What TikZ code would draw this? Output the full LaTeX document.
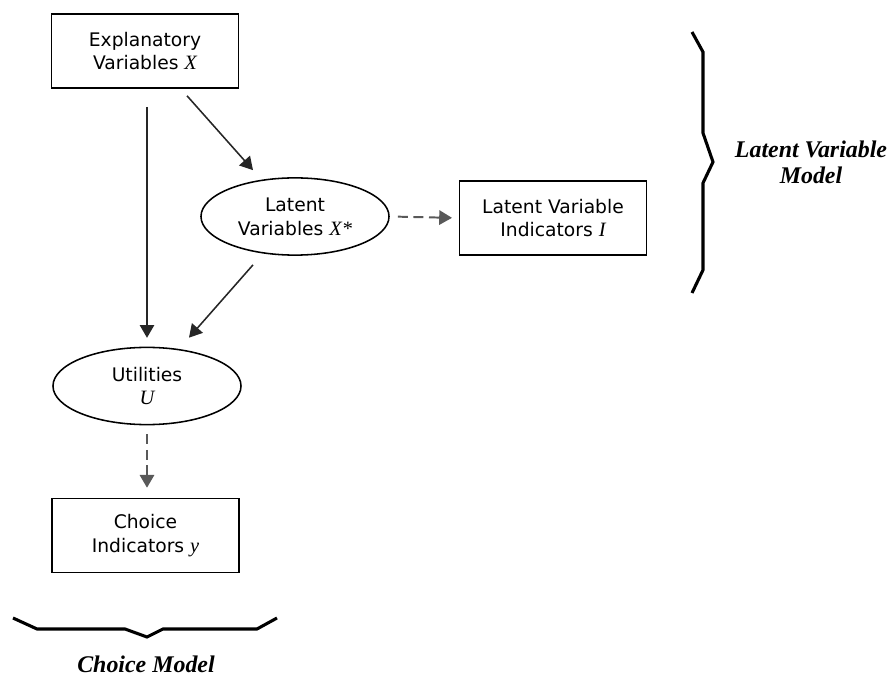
\documentclass[tikz,border=0pt]{standalone}
\usepackage{fontspec}
\setmainfont{DejaVu Sans}
\newfontfamily\varfont{Liberation Serif}
\usetikzlibrary{shapes.geometric,arrows.meta,calc}
\newcommand{\vb}[1]{{\varfont\itshape\fontsize{14.5}{17}\selectfont #1}}
\begin{document}
\begin{tikzpicture}
  [x=0.025cm,y=-0.025cm,
   every node/.style={font=\fontsize{13.3}{17}\selectfont,align=center,inner sep=0pt},
   box/.style={draw,line width=1.1pt,minimum width=4.67cm,minimum height=1.85cm},
   oval/.style={ellipse,draw,line width=1.1pt,minimum width=4.7cm,minimum height=1.93cm},
   arr/.style={-{Triangle[length=0.32cm,width=0.36cm]},line width=1.1pt,black!85},
   darr/.style={arr,dash pattern=on 0.25cm off 0.14cm,line width=1.4pt,black!65},
   brace/.style={line width=2.2pt},
   model/.style={font=\varfont\bfseries\itshape\fontsize{17}{18.5}\selectfont}]
 \useasboundingbox (0,0) rectangle (895,682);
 \node (expl)[box] at (145,51) {Explanatory\\Variables \vb{X}};
 \node (latent)[oval] at (295,216.5) {Latent\\Variables \vb{X*}};
 \node (lvind)[box] at (553,218) {Latent Variable\\Indicators \vb{I}};
 \node (util)[oval] at (147,386) {Utilities\\\vb{U}};
 \node (choice)[box] at (145.5,535.5) {Choice\\Indicators \vb{y}};
 \node (lvmodel)[model] at (811,162) {Latent Variable\\Model};
 \node (chmodel)[model] at (146,664) {Choice Model};

 \draw[arr,shorten <=0.45cm,shorten >=0.22cm] (util.north |- expl.south) -- (util.north);
 \draw[arr] ($(expl.south)+(42,7)$) -- ($(latent.north)+(-42,-7)$);
 \draw[arr] ($(latent.south)+(-42,9)$) -- ($(util.north)+(42,-9)$);
 \draw[darr,shorten <=0.2cm,shorten >=0.17cm] (latent.east) -- (lvind.west);
 \draw[darr,shorten <=0.22cm,shorten >=0.25cm] (util.south) -- (choice.north -| util.south);

 \draw[brace] (692,32) -- (703,52) -- (703,133) -- (713,162) -- (703,183) -- (703,270) -- (692,293);
 \draw[brace] (13,618) -- (37,629) -- (125,629) -- (147,637) -- (163,629) -- (257,629) -- (277,618);
\end{tikzpicture}
\end{document}
